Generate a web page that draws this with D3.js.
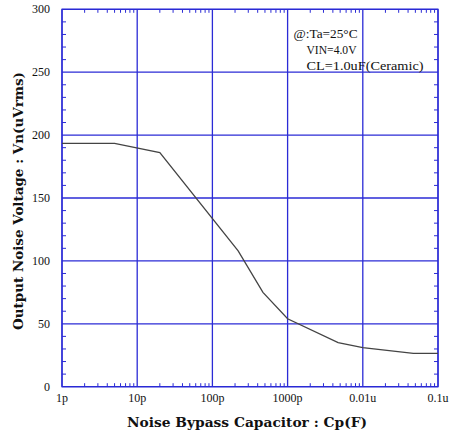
<!DOCTYPE html>
<html><head><meta charset="utf-8">
<script src="https://cdn.jsdelivr.net/npm/d3@7"></script>
<style>body{margin:0;background:#fff}svg{display:block}</style>
</head><body>
<script>
const capF = [1e-12, 5e-12, 20e-12, 220e-12, 470e-12, 1000e-12, 4.7e-9, 10e-9, 47e-9, 100e-9];
const noise = [193.5, 193.5, 186, 108, 75, 54, 35, 31, 26.5, 26.5];
const xTickVals = [1e-12, 1e-11, 1e-10, 1e-9, 1e-8, 1e-7];
const xTickLabels = ["1p", "10p", "100p", "1000p", "0.01u", "0.1u"];
const yTickVals = [0, 50, 100, 150, 200, 250, 300];
const notes = ["@:Ta=25\u00B0C", "VIN=4.0V", "CL=1.0uF(Ceramic)"];

const W = 451, H = 436;
const L = 62, R = 438, T = 9.3, B = 386.7;
const grid = "#2b2bd6";
const svg = d3.select("body").append("svg").attr("width", W).attr("height", H);
const x = d3.scaleLog().domain([1e-12, 1e-7]).range([L, R]);
const y = d3.scaleLinear().domain([0, 300]).range([B, T]);

// gridlines
svg.append("g").selectAll("line").data(xTickVals).join("line")
  .attr("x1", d => x(d)).attr("x2", d => x(d)).attr("y1", T).attr("y2", B)
  .attr("stroke", grid).attr("stroke-width", 1.3);
svg.append("g").selectAll("line").data(yTickVals).join("line")
  .attr("x1", L).attr("x2", R).attr("y1", d => y(d)).attr("y2", d => y(d))
  .attr("stroke", grid).attr("stroke-width", 1.3);

// minor ticks x
const minorX = [];
for (let e = -12; e < -7; e++) for (let m = 2; m <= 9; m++) minorX.push(m * Math.pow(10, e));
const mt = svg.append("g").attr("stroke", grid).attr("stroke-width", 1);
mt.selectAll(".bx").data(minorX).join("line")
  .attr("x1", d => x(d)).attr("x2", d => x(d)).attr("y1", B).attr("y2", B - 3.5);
mt.selectAll(".tx").data(minorX).join("line").attr("class","tx")
  .attr("x1", d => x(d)).attr("x2", d => x(d)).attr("y1", T).attr("y2", T + 3.5);
const minorY = d3.range(0, 301, 10).filter(v => v % 50 !== 0);
mt.selectAll(".ly").data(minorY).join("line").attr("class","ly")
  .attr("x1", L).attr("x2", L + 4).attr("y1", d => y(d)).attr("y2", d => y(d));
mt.selectAll(".ry").data(minorY).join("line").attr("class","ry")
  .attr("x1", R).attr("x2", R - 4).attr("y1", d => y(d)).attr("y2", d => y(d));

// frame
svg.append("rect").attr("x", L).attr("y", T).attr("width", R - L).attr("height", B - T)
  .attr("fill", "none").attr("stroke", grid).attr("stroke-width", 1.3);

// curve
const line = d3.line().x((d, i) => x(capF[i])).y(d => y(d));
svg.append("path").datum(noise).attr("d", line)
  .attr("fill", "none").attr("stroke", "#444").attr("stroke-width", 1.3);

// tick labels
const font = "'Liberation Serif', serif";
svg.append("g").selectAll("text").data(yTickVals).join("text")
  .attr("x", 50).attr("y", d => y(d) + 4).attr("text-anchor", "end")
  .attr("font-family", font).attr("font-size", 12).attr("fill", "#111").text(d => d);
svg.append("g").selectAll("text").data(xTickVals).join("text")
  .attr("x", d => x(d)).attr("y", 402).attr("text-anchor", "middle")
  .attr("font-family", font).attr("font-size", 12).attr("fill", "#111")
  .text((d, i) => xTickLabels[i]);

// axis titles
svg.append("text").attr("x", 247).attr("y", 427).attr("text-anchor", "middle")
  .attr("font-family", "'DejaVu Serif', serif").attr("font-weight", "bold").attr("font-size", 12.5)
  .attr("textLength", 240).attr("lengthAdjust", "spacingAndGlyphs")
  .attr("fill", "#111").text("Noise Bypass Capacitor : Cp(F)");
svg.append("text").attr("transform", "translate(23,201) rotate(-90)").attr("text-anchor", "middle")
  .attr("font-family", "'DejaVu Serif', serif").attr("font-weight", "bold").attr("font-size", 12.5)
  .attr("textLength", 258).attr("lengthAdjust", "spacingAndGlyphs")
  .attr("fill", "#111").text("Output Noise Voltage : Vn(uVrms)");

// annotation
const nx = [293.5, 306.5, 306.5], ny = [38, 54, 70], nw = [64, 50, 117];
svg.append("g").selectAll("text").data(notes).join("text")
  .attr("x", (d, i) => nx[i]).attr("y", (d, i) => ny[i])
  .attr("font-family", font).attr("font-size", 13.5).attr("fill", "#111")
  .attr("textLength", (d, i) => nw[i]).attr("lengthAdjust", "spacingAndGlyphs")
  .text(d => d);
</script>
</body></html>
